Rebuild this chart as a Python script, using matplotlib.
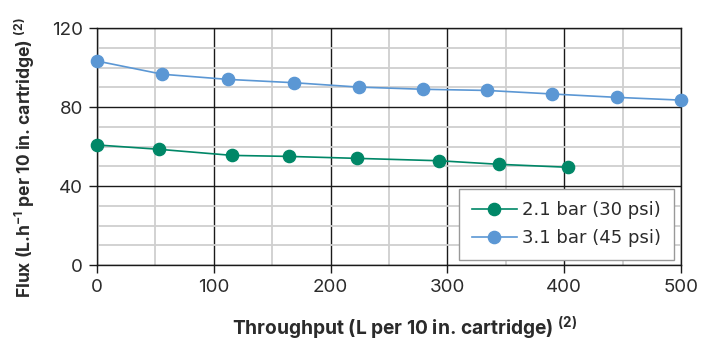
import numpy as np
import matplotlib
matplotlib.use("Agg")
import matplotlib.pyplot as plt
from matplotlib.ticker import MultipleLocator

plt.rcParams["font.family"] = ["Inter", "DejaVu Sans"]

# 2.1 bar (30 psi)
x_low = [0, 53, 116, 164, 223, 293, 344, 403]
y_low = [60.8, 58.6, 55.5, 55.0, 54.0, 52.8, 51.0, 49.5]

# 3.1 bar (45 psi)
x_high = [0, 56, 112, 169, 224, 279, 334, 390, 445, 500]
y_high = [103.3, 96.6, 94.0, 92.3, 90.1, 89.0, 88.4, 86.6, 84.9, 83.5]

labels = ["2.1 bar (30 psi)", "3.1 bar (45 psi)"]
GREEN = "#008767"
BLUE = "#5B97D4"
TEXT = "#2b2b2b"

fig = plt.figure(figsize=(7.1, 3.42), dpi=100)
ax = fig.add_axes([0.1366, 0.2251, 0.8225, 0.6929])

ax.set_xlim(0, 500)
ax.set_ylim(0, 120)
ax.xaxis.set_major_locator(MultipleLocator(100))
ax.xaxis.set_minor_locator(MultipleLocator(50))
ax.yaxis.set_major_locator(MultipleLocator(40))
ax.yaxis.set_minor_locator(MultipleLocator(10))

ax.grid(which="minor", color="#cfcfcf", linewidth=1.3)
ax.grid(which="major", color="#1a1a1a", linewidth=1.0)
ax.set_axisbelow(True)
for s in ax.spines.values():
    s.set_color("#1a1a1a")
    s.set_linewidth(1.0)

ax.tick_params(which="major", direction="out", length=6, width=1.0,
               color="#1a1a1a", labelsize=13.5, labelcolor=TEXT, pad=4)
ax.tick_params(which="minor", length=0)

ax.plot(x_low, y_low, "-o", color=GREEN, lw=1.2, ms=8.8, mec=GREEN,
        label=labels[0], clip_on=False, zorder=3)
ax.plot(x_high, y_high, "-o", color=BLUE, lw=1.2, ms=8.8, mec=BLUE,
        label=labels[1], clip_on=False, zorder=3)

ax.set_xlabel("Throughput (L per 10 in. cartridge) $^{\\mathregular{(2)}}$",
              fontsize=13.8, fontweight="bold", color=TEXT)
ax.set_ylabel("Flux (L.h$^{\\mathregular{-1}}$ per 10 in. cartridge) $^{\\mathregular{(2)}}$",
              fontsize=12.6, fontweight="bold", color=TEXT)
ax.xaxis.set_label_coords(0.527, -0.212)
ax.yaxis.set_label_coords(-0.103, 0.4536)

leg = ax.legend(loc="lower right", frameon=True, fancybox=False,
                prop={"family": "DejaVu Sans", "size": 13},
                borderpad=0.7, labelspacing=0.55, handlelength=2.5,
                handletextpad=0.3, borderaxespad=0.0,
                bbox_to_anchor=(0.988, 0.021))
leg.get_frame().set_edgecolor("#999999")
leg.get_frame().set_linewidth(1.0)
leg.get_frame().set_alpha(1.0)
for t in leg.get_texts():
    t.set_color(TEXT)

fig.savefig("out.png", dpi=100)
